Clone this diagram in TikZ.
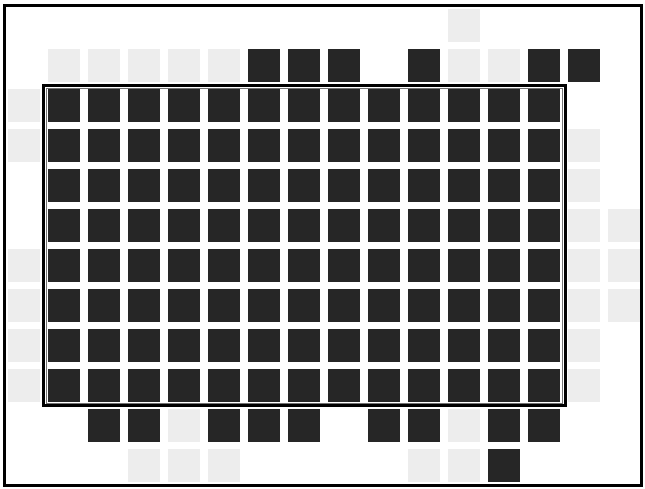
\documentclass[tikz,border=0pt]{standalone}
\begin{document}
\begin{tikzpicture}[x=1pt,y=-1pt,
  darksq/.style={fill=black!85},
  lightsq/.style={fill=black!7},
  frameline/.style={draw=black,line width=3pt},
  boxthick/.style={draw=black,line width=2.6pt},
  boxthin/.style={draw=black!55,line width=0.6pt}]
\useasboundingbox (0,0) rectangle (645,488);
\fill[white] (0,0) rectangle (645,488);
% light (dithered) squares
\foreach \i/\j in {0/-1,1/-1,2/-1,3/-1,4/-1,10/-1,11/-1,10/-2,
  -1/0,-1/1,-1/4,-1/5,-1/6,-1/7,
  13/1,13/2,13/3,13/4,13/5,13/6,13/7,14/3,14/4,14/5,
  3/8,10/8,2/9,3/9,4/9,9/9,10/9}
  \fill[lightsq] ({48+40*\i},{89+40*\j}) rectangle ++(32,33);
% main grid
\foreach \i in {0,...,12}
  \foreach \j in {0,...,7}
    \fill[darksq] ({48+40*\i},{89+40*\j}) rectangle ++(32,33);
% dark squares outside the box
\foreach \i/\j in {5/-1,6/-1,7/-1,9/-1,12/-1,13/-1,
  1/8,2/8,4/8,5/8,6/8,8/8,9/8,11/8,12/8,11/9}
  \fill[darksq] ({48+40*\i},{89+40*\j}) rectangle ++(32,33);
% double-line box
\draw[boxthick] (43.5,85.5) rectangle (565.5,405.5);
\draw[boxthin] (46.3,88.2) rectangle (562.7,402.8);
% outer frame
\draw[frameline] (4.5,5) rectangle (641,485);
\end{tikzpicture}
\end{document}
